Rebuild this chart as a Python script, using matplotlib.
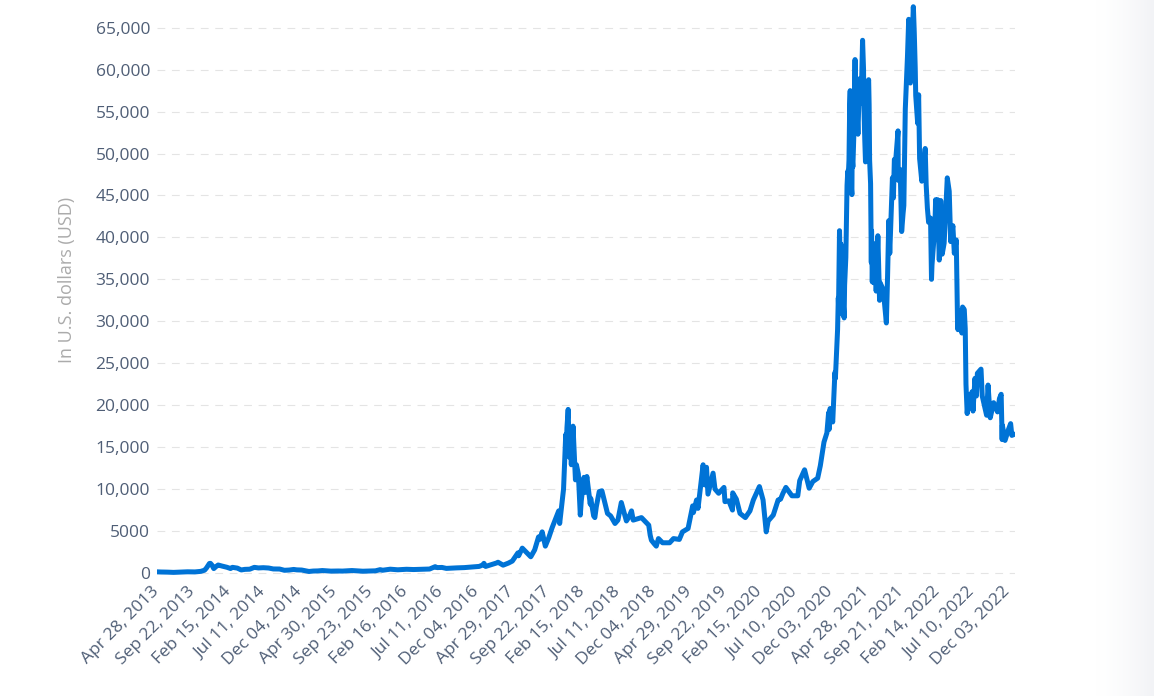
import numpy as np
import pandas as pd
import matplotlib
matplotlib.use("Agg")
import matplotlib.pyplot as plt
from matplotlib.ticker import FuncFormatter
from matplotlib.transforms import ScaledTranslation

plt.rcParams['font.family'] = ['Open Sans', 'DejaVu Sans']

# Bitcoin price (USD)
dates = [
    "2013-04-28", "2013-05-15", "2013-06-10", "2013-07-05", "2013-08-01", "2013-09-01",
    "2013-10-01", "2013-10-25", "2013-11-10", "2013-11-18", "2013-11-30", "2013-12-04",
    "2013-12-10", "2013-12-18", "2013-12-27",
    "2014-01-05", "2014-01-20", "2014-02-10", "2014-02-25", "2014-03-05", "2014-03-25",
    "2014-04-10", "2014-04-25", "2014-05-15", "2014-06-03", "2014-06-20", "2014-07-10",
    "2014-08-01", "2014-08-20", "2014-09-15", "2014-10-05", "2014-10-25", "2014-11-12",
    "2014-11-25", "2014-12-15",
    "2015-01-14", "2015-02-01", "2015-02-20", "2015-03-10", "2015-04-14", "2015-05-15",
    "2015-06-01", "2015-07-10", "2015-07-20", "2015-08-24", "2015-09-20", "2015-10-15",
    "2015-11-04", "2015-11-12", "2015-12-15",
    "2016-01-15", "2016-02-20", "2016-03-20", "2016-05-01", "2016-05-25", "2016-06-17",
    "2016-06-25", "2016-07-15", "2016-08-02", "2016-09-15", "2016-10-15", "2016-11-15",
    "2016-12-15", "2016-12-31",
    "2017-01-04", "2017-01-11", "2017-02-01", "2017-02-25", "2017-03-03", "2017-03-24",
    "2017-04-15", "2017-05-01", "2017-05-24", "2017-05-27", "2017-06-11", "2017-06-25",
    "2017-07-16", "2017-08-01", "2017-08-17", "2017-08-22", "2017-09-01", "2017-09-14",
    "2017-09-28", "2017-10-12", "2017-10-20", "2017-11-08", "2017-11-12", "2017-11-20",
    "2017-11-28", "2017-12-07", "2017-12-09", "2017-12-12", "2017-12-17", "2017-12-22",
    "2017-12-26", "2017-12-30",
    "2018-01-06", "2018-01-16", "2018-01-20", "2018-01-28", "2018-02-02", "2018-02-05",
    "2018-02-09", "2018-02-20", "2018-02-25", "2018-03-04", "2018-03-18", "2018-03-20",
    "2018-04-01", "2018-04-06", "2018-04-12", "2018-04-24", "2018-05-05", "2018-05-28",
    "2018-06-10", "2018-06-28", "2018-07-10", "2018-07-24", "2018-08-14", "2018-08-25",
    "2018-09-04", "2018-09-11", "2018-10-15", "2018-11-14", "2018-11-20", "2018-11-25",
    "2018-12-06", "2018-12-15", "2018-12-24",
    "2019-01-10", "2019-02-08", "2019-02-24", "2019-03-20", "2019-04-02", "2019-04-25",
    "2019-05-14", "2019-05-17", "2019-05-30", "2019-06-05", "2019-06-26", "2019-07-02",
    "2019-07-10", "2019-07-16", "2019-08-06", "2019-08-14", "2019-08-29", "2019-09-20",
    "2019-09-24", "2019-10-10", "2019-10-25", "2019-10-26", "2019-11-10", "2019-11-25",
    "2019-12-17",
    "2020-01-05", "2020-01-19", "2020-02-13", "2020-02-28", "2020-03-12", "2020-03-20",
    "2020-04-10", "2020-04-30", "2020-05-10", "2020-05-20", "2020-06-01", "2020-06-26",
    "2020-07-20", "2020-07-28", "2020-08-17", "2020-09-05", "2020-09-20", "2020-10-10",
    "2020-10-21", "2020-11-05", "2020-11-17", "2020-11-24", "2020-11-26", "2020-11-30",
    "2020-12-11", "2020-12-16", "2020-12-20", "2020-12-22", "2020-12-27", "2020-12-31",
    "2021-01-03", "2021-01-04", "2021-01-06", "2021-01-08", "2021-01-10", "2021-01-11",
    "2021-01-14", "2021-01-17", "2021-01-21", "2021-01-22", "2021-01-27", "2021-01-29",
    "2021-02-03", "2021-02-08", "2021-02-11", "2021-02-13", "2021-02-16", "2021-02-19",
    "2021-02-21", "2021-02-22", "2021-02-23", "2021-02-25", "2021-02-28", "2021-03-01",
    "2021-03-04", "2021-03-08", "2021-03-10", "2021-03-13", "2021-03-15", "2021-03-17",
    "2021-03-22", "2021-03-25", "2021-03-31", "2021-04-07", "2021-04-13", "2021-04-17",
    "2021-04-18", "2021-04-22", "2021-04-25", "2021-04-29", "2021-05-03", "2021-05-08",
    "2021-05-10", "2021-05-12", "2021-05-16", "2021-05-17", "2021-05-19", "2021-05-20",
    "2021-05-23", "2021-05-26", "2021-05-29", "2021-06-03", "2021-06-08", "2021-06-15",
    "2021-06-22", "2021-06-24", "2021-07-07", "2021-07-20", "2021-07-25", "2021-07-30",
    "2021-08-03", "2021-08-14", "2021-08-18", "2021-08-22", "2021-08-27", "2021-09-06",
    "2021-09-07", "2021-09-15", "2021-09-21", "2021-09-27", "2021-09-30", "2021-10-06",
    "2021-10-15", "2021-10-20", "2021-10-27", "2021-11-01", "2021-11-08", "2021-11-09",
    "2021-11-12", "2021-11-16", "2021-11-18", "2021-11-26", "2021-11-30", "2021-12-04",
    "2021-12-13", "2021-12-27", "2021-12-31",
    "2022-01-05", "2022-01-10", "2022-01-18", "2022-01-22", "2022-01-24", "2022-02-05",
    "2022-02-08", "2022-02-12", "2022-02-16", "2022-02-23", "2022-02-24", "2022-03-01",
    "2022-03-07", "2022-03-15", "2022-03-28", "2022-04-05", "2022-04-11", "2022-04-20",
    "2022-04-26", "2022-05-04", "2022-05-09", "2022-05-11", "2022-05-15", "2022-05-27",
    "2022-05-30", "2022-06-06", "2022-06-10", "2022-06-13", "2022-06-18", "2022-06-24",
    "2022-06-30", "2022-07-08", "2022-07-12", "2022-07-20", "2022-07-26", "2022-07-30",
    "2022-08-14", "2022-08-19", "2022-09-06", "2022-09-12", "2022-09-19", "2022-09-21",
    "2022-10-05", "2022-10-21", "2022-10-29", "2022-11-05", "2022-11-09", "2022-11-10",
    "2022-11-21", "2022-12-05", "2022-12-14", "2022-12-19", "2022-12-31",
]
prices = [
    135, 115, 100, 70, 100, 140,
    125, 190, 330, 600, 1130, 1150,
    950, 520, 760,
    950, 830, 680, 530, 670, 580,
    360, 430, 450, 670, 600, 630,
    590, 480, 470, 320, 350, 420,
    370, 350,
    180, 230, 245, 290, 220, 235,
    225, 290, 275, 210, 230, 255,
    400, 320, 450,
    380, 440, 410, 450, 470, 750,
    640, 660, 545, 610, 640, 710,
    780, 960,
    1150, 780, 970, 1190, 1280, 930,
    1180, 1420, 2400, 2050, 2960, 2550,
    1930, 2750, 4300, 4000, 4900, 3200,
    4200, 5400, 6000, 7400, 5900, 8000,
    10000, 16500, 14500, 17300, 19500, 13800,
    16100, 12900,
    17500, 11100, 12900, 11800, 8800, 6900,
    8600, 11400, 9600, 11500, 8200, 8900,
    6800, 6600, 7900, 9700, 9800, 7100,
    6800, 5900, 6300, 8400, 6200, 6700,
    7400, 6300, 6600, 5700, 4500, 3900,
    3500, 3200, 4100,
    3600, 3600, 4100, 4000, 4900, 5300,
    8000, 7200, 8700, 7700, 12900, 10500,
    12600, 9400, 11900, 10000, 9500, 10200,
    8500, 8600, 7500, 9550, 8800, 7100,
    6600,
    7400, 8700, 10300, 8700, 4900, 6200,
    6900, 8700, 8800, 9500, 10200, 9200,
    9200, 11000, 12300, 10100, 10900, 11300,
    12800, 15600, 16700, 19100, 17100, 19600,
    18000, 21300, 23900, 23200, 26300, 29000,
    32800, 31900, 36800, 40800, 38300, 35500,
    39200, 35800, 30800, 33000, 30400, 34300,
    37600, 46200, 47900, 47200, 49200, 55900,
    57500, 54200, 48800, 46300, 45100, 49600,
    48400, 52200, 55900, 61200, 56000, 58900,
    54500, 52300, 58900, 56000, 63500, 60000,
    56200, 51700, 49000, 53600, 57800, 58800,
    55800, 49200, 46400, 43500, 37000, 40800,
    34700, 39300, 34600, 39100, 33600, 40200,
    32500, 34600, 33800, 29800, 35400, 42000,
    38100, 47100, 44700, 49300, 49000, 52700,
    46800, 48100, 40700, 42900, 43800, 55300,
    61600, 66000, 58400, 61000, 67500, 66900,
    64400, 60100, 56900, 53600, 57000, 49400,
    46700, 50600, 46300,
    43500, 41800, 42300, 35000, 36700, 41400,
    44500, 42200, 44500, 37300, 38300, 44400,
    38000, 39300, 47100, 45500, 39500, 41400,
    38100, 39700, 30300, 29000, 31300, 28600,
    31700, 31400, 29100, 22500, 19000, 21200,
    19800, 21600, 19300, 23200, 21100, 23800,
    24300, 21100, 18800, 22400, 19500, 18500,
    20300, 19200, 20800, 21300, 15900, 17600,
    15800, 17100, 17800, 16400, 16550,
]

tick_dates = [
    "2013-04-28", "2013-09-22", "2014-02-15", "2014-07-11", "2014-12-04",
    "2015-04-30", "2015-09-23", "2016-02-16", "2016-07-11", "2016-12-04",
    "2017-04-29", "2017-09-22", "2018-02-15", "2018-07-11", "2018-12-04",
    "2019-04-29", "2019-09-22", "2020-02-15", "2020-07-10", "2020-12-03",
    "2021-04-28", "2021-09-21", "2022-02-14", "2022-07-10", "2022-12-03",
]
y_ticks = list(range(0, 65001, 5000))

x = pd.to_datetime(dates)
xt = pd.to_datetime(tick_dates)

fig = plt.figure(figsize=(11.54, 6.96), dpi=100)
ax = fig.add_axes([157 / 1154, 119 / 696, 858 / 1154, 577 / 696])

ax.plot(x, prices, color="#0073d6", lw=3.6, solid_joinstyle="round",
        solid_capstyle="round", zorder=3)

ax.set_xlim(pd.Timestamp("2013-05-07"), pd.Timestamp("2023-01-01"))
ax.set_ylim(-480, 68300)

ax.set_yticks(y_ticks)
ax.yaxis.set_major_formatter(FuncFormatter(
    lambda v, p: f"{int(v):,}" if v >= 10000 else f"{int(v)}"))
ax.set_xticks(xt)
ax.set_xticklabels([d.strftime("%b %d, %Y") for d in xt], rotation=45,
                   ha="right", va="center", rotation_mode="anchor")
shift = ScaledTranslation(0.035, 0, fig.dpi_scale_trans)
for lbl in ax.get_xticklabels():
    lbl.set_transform(lbl.get_transform() + shift)

ax.grid(axis="y", color="#e4e4e4", lw=0.8, linestyle=(0, (7, 6)))
ax.set_axisbelow(True)
for s in ax.spines.values():
    s.set_visible(False)
ax.tick_params(axis="both", length=0, labelsize=12.5, colors="#4f5e76")
ax.tick_params(axis="y", pad=5)
ax.tick_params(axis="x", pad=9)

ax.set_ylabel("In U.S. dollars (USD)", color="#ababab", fontsize=13)
ax.yaxis.set_label_coords(-0.094, 0.515)

# faint shade on the right edge
shade = fig.add_axes([1095 / 1154, 0, 59 / 1154, 1])
grad = np.linspace(0, 1, 100).reshape(1, -1) ** 1.5
shade.imshow(grad, aspect="auto", cmap=matplotlib.colors.LinearSegmentedColormap.from_list(
    "s", ["#ffffff", "#f2f3f6"]), extent=[0, 1, 0, 1])
shade.axis("off")

fig.savefig("out.png", dpi=100)
